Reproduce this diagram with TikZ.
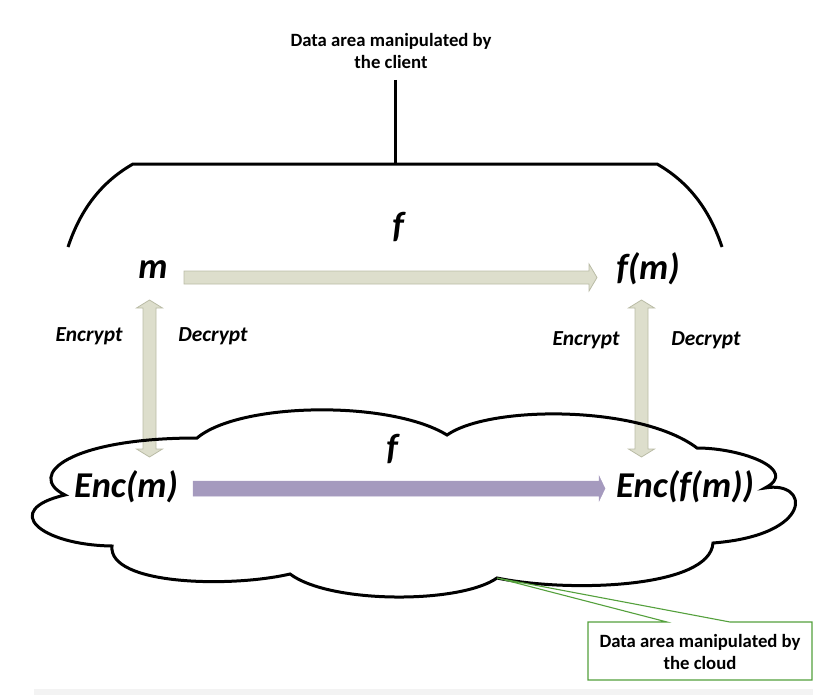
\documentclass[tikz,border=0pt]{standalone}
\usepackage{fontspec}
\setmainfont{Carlito}
\usetikzlibrary{calc}
\definecolor{lightfill}{RGB}{221,222,204}
\definecolor{lightedge}{RGB}{186,188,166}
\definecolor{purplefill}{RGB}{165,154,190}
\definecolor{calloutgreen}{RGB}{84,160,60}
\definecolor{stripgray}{RGB}{243,243,243}
\tikzset{
  biglbl/.style={font=\fontsize{36.5}{42}\selectfont\bfseries\itshape, inner sep=0pt, anchor=base},
  smlbl/.style={font=\fontsize{21.5}{25}\selectfont\bfseries\itshape, inner sep=0pt, anchor=base},
  notelbl/.style={font=\fontsize{18.8}{22}\selectfont\bfseries, align=center, inner sep=0pt},
  lightarrow/.style={fill=lightfill, draw=lightedge, line width=0.8bp, line join=miter},
  purplearrow/.style={fill=purplefill, draw=purplefill, line width=0.5bp},
  blackline/.style={draw=black, line width=3bp, line join=miter},
  calloutbox/.style={fill=white, draw=calloutgreen, line width=1.1bp}
}
\begin{document}
\begin{tikzpicture}[x=1bp, y=-1bp]
\useasboundingbox (0,0) rectangle (813,695);
\fill[stripgray] (34,689) rectangle (813,695);

% top label, stem and brace
\node[notelbl] (client) at (391,51) {Data area manipulated by\\the client};
\coordinate (stemtop) at (395.5,80);
\coordinate (stembot) at (395.5,164);
\draw[blackline] (stemtop) -- (stembot);
\coordinate (brL) at (68,247);
\coordinate (brLc) at (133,164);
\coordinate (brRc) at (657,164);
\coordinate (brR) at (722,247);
\draw[blackline] (brL) .. controls (82,205) and (105,180) .. (brLc) -- (brRc)
  .. controls (685,180) and (708,205) .. (brR);

% labels
\node[biglbl] (ftop) at (398,237) {f};
\node[biglbl] (m) at (153,278) {m};
\node[biglbl] (fm) at (648,279) {f(m)};
\node[smlbl] (encL) at (89,341) {Encrypt};
\node[smlbl] (decL) at (213,341) {Decrypt};
\node[smlbl] (encR) at (586,345) {Encrypt};
\node[smlbl] (decR) at (706,345) {Decrypt};
\node[biglbl] (fbot) at (392,459) {f};
\node[biglbl] (encm) at (126,497) {Enc(m)};
\node[biglbl] (encfm) at (685,497) {Enc(f(m))};

% top horizontal arrow m -> f(m)
\coordinate (a1s) at (184,277.5);
\coordinate (a1e) at (597,277.5);
\draw[lightarrow] ($(a1s)+(0,-6.5)$) -- ($(a1e)+(-8,-6.5)$) -- ($(a1e)+(-8,-13.5)$) -- (a1e)
  -- ($(a1e)+(-8,13.5)$) -- ($(a1e)+(-8,6.5)$) -- ($(a1s)+(0,6.5)$) -- cycle;

% vertical double arrows
\coordinate (vLt) at (149.5,300);
\coordinate (vLb) at (149.5,457);
\draw[lightarrow] (vLt) -- ($(vLt)+(13,8)$) -- ($(vLt)+(6.5,8)$) -- ($(vLb)+(6.5,-8)$) -- ($(vLb)+(13,-8)$)
  -- (vLb) -- ($(vLb)+(-13,-8)$) -- ($(vLb)+(-6.5,-8)$) -- ($(vLt)+(-6.5,8)$) -- ($(vLt)+(-13,8)$) -- cycle;
\coordinate (vRt) at (641.5,300);
\coordinate (vRb) at (641.5,457);
\draw[lightarrow] (vRt) -- ($(vRt)+(13,8)$) -- ($(vRt)+(6.5,8)$) -- ($(vRb)+(6.5,-8)$) -- ($(vRb)+(13,-8)$)
  -- (vRb) -- ($(vRb)+(-13,-8)$) -- ($(vRb)+(-6.5,-8)$) -- ($(vRt)+(-6.5,8)$) -- ($(vRt)+(-13,8)$) -- cycle;

% purple arrow Enc(m) -> Enc(f(m))
\coordinate (a2s) at (193,488.5);
\coordinate (a2e) at (605,488.5);
\draw[purplearrow] ($(a2s)+(0,-7.5)$) -- ($(a2e)+(-6,-7.5)$) -- ($(a2e)+(-6,-12.5)$) -- (a2e)
  -- ($(a2e)+(-6,12.5)$) -- ($(a2e)+(-6,7.5)$) -- ($(a2s)+(0,7.5)$) -- cycle;

% cloud outline
\coordinate (c1) at (197,438);
\coordinate (c2) at (447,435);
\coordinate (c3) at (697,448);
\coordinate (c4) at (765,488);
\coordinate (c5) at (713,543);
\coordinate (c6) at (497,578);
\coordinate (c7) at (290,574);
\coordinate (c8) at (112,546);
\coordinate (c9) at (65,495);
\draw[blackline] (c1) .. controls (240,402) and (390,400) .. (c2)
  .. controls (490,405) and (640,405) .. (c3)
  .. controls (742,448) and (800,470) .. (c4)
  .. controls (810,480) and (815,535) .. (c5)
  .. controls (710,588) and (570,593) .. (c6)
  .. controls (460,604) and (330,604) .. (c7)
  .. controls (230,588) and (108,585) .. (c8)
  .. controls (40,545) and (0,510) .. (c9)
  .. controls (25,475) and (70,438) .. (c1) -- cycle;

% callout
\coordinate (ctip) at (497,578);
\draw[calloutbox] (588,622) -- (667,622) -- (ctip) -- (730,622) -- (812,622) -- (812,680) -- (588,680) -- cycle;
\node[notelbl] (cloudnote) at (700,652) {Data area manipulated by\\the cloud};
\end{tikzpicture}
\end{document}
